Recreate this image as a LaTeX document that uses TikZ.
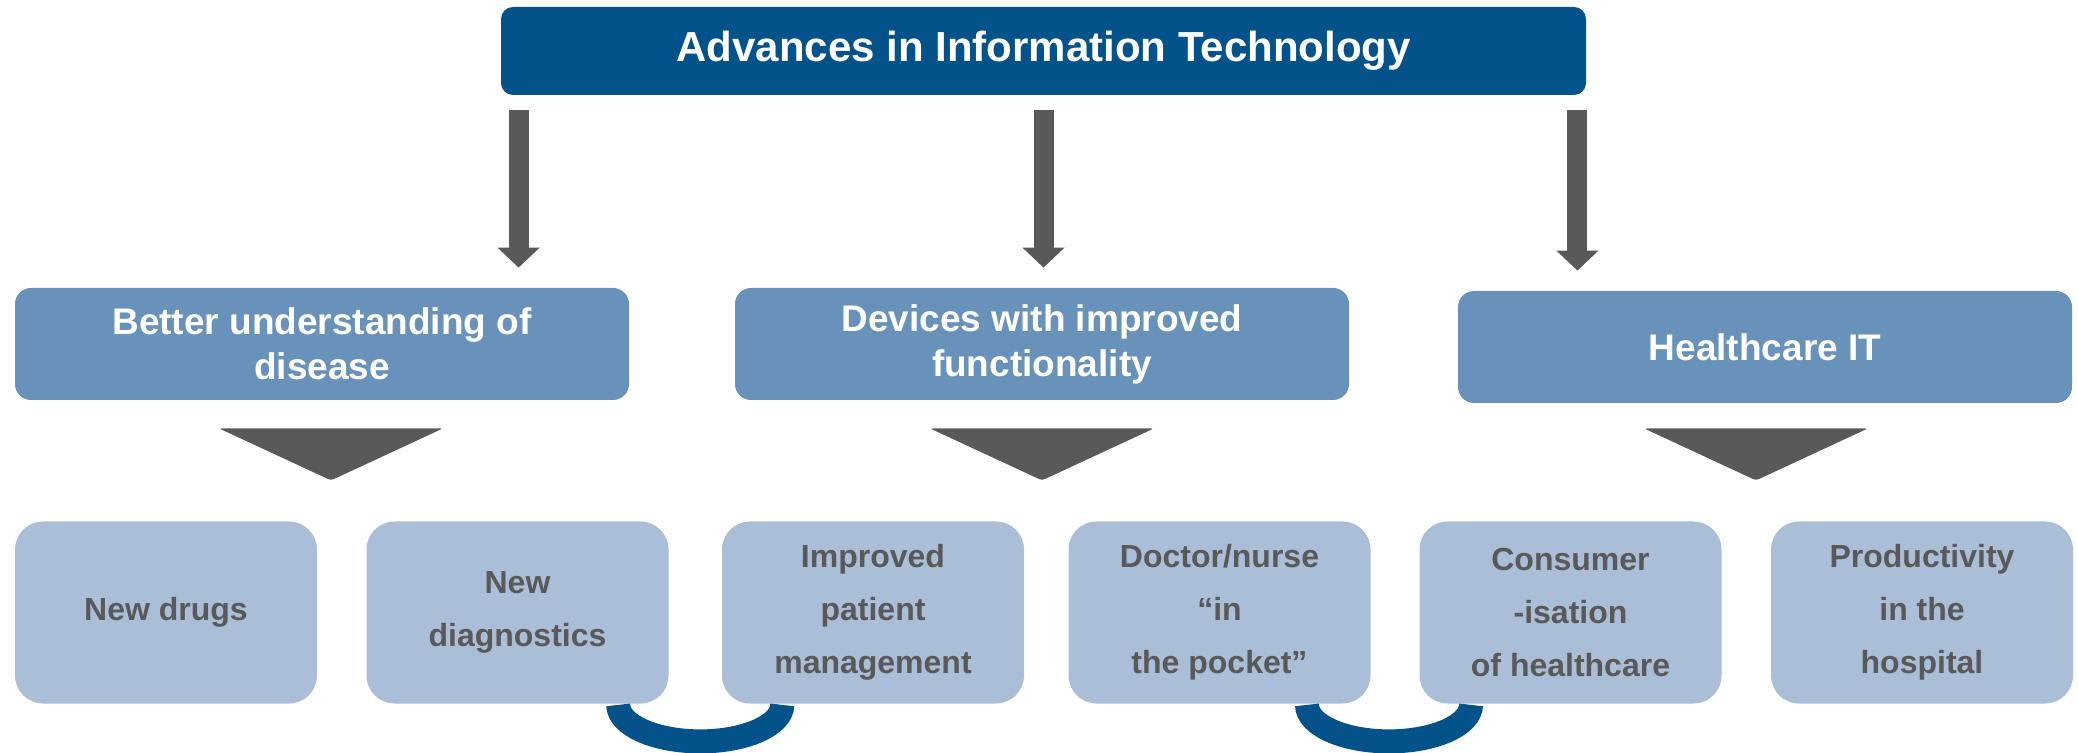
\documentclass[tikz,border=0pt]{standalone}
\usepackage{fontspec}
\setmainfont{Liberation Sans}
\usetikzlibrary{positioning,arrows.meta,calc}

\definecolor{itblue}{HTML}{03528A}
\definecolor{areablue}{HTML}{6892BA}
\definecolor{itemblue}{HTML}{AABED8}
\definecolor{arrowgray}{HTML}{58595B}
\definecolor{itemtext}{HTML}{595959}

\begin{document}
\begin{tikzpicture}[x=0.5pt,y=-0.5pt,on grid,
	headbox/.style={fill=itblue,rounded corners=6pt,minimum width=542.5pt,minimum height=44pt,inner sep=0pt,text=white,font=\bfseries\fontsize{21}{25}\selectfont},
	areabox/.style={fill=areablue,rounded corners=8pt,minimum width=307pt,minimum height=56pt,inner sep=0pt,align=center,text=white,font=\bfseries\fontsize{18.5}{22.5}\selectfont},
	itembox/.style={fill=itemblue,rounded corners=14pt,minimum width=151pt,minimum height=91pt,inner sep=0pt,align=center,text=itemtext,font=\bfseries\fontsize{16}{26.5}\selectfont},
	downarrow/.style={draw=arrowgray,line width=10pt,shorten >=10pt,-{Triangle[width=20.5pt,length=10pt]}},
	wedge/.style={fill=arrowgray,rounded corners=1.5pt},
	link/.style={draw=itblue,line width=12pt}]
	\useasboundingbox (0,0) rectangle (2078,753);

	\node[headbox] (it) at (1043.5,51) {Advances in Information Technology};

	\node[areabox] (disease) at (322,344) {Better understanding of\\disease};
	\node[areabox,right=360pt of disease] (devices) {Devices with improved\\functionality};
	\node[areabox,right=361.5pt of devices,yshift=-1.5pt] (hcit) {Healthcare IT};

	\node[itembox] (drugs) at (166,612.5) {New drugs};
	\node[itembox,right=175.75pt of drugs] (diag) {New\\diagnostics};
	\node[itembox,right=177.75pt of diag] (mgmt) {Improved\\patient\\management};
	\node[itembox,right=173.25pt of mgmt] (pocket) {Doctor/nurse\\“in\\the pocket”};
	\node[itembox,right=175.5pt of pocket] (consumer) {Consumer\\-isation\\of healthcare};
	\node[itembox,right=175.75pt of consumer] (hospital) {Productivity\\in the\\hospital};

	% arrows hanging from the head box
	\draw[downarrow] ([shift={(9pt,-7.5pt)}]it.south west) -- ([xshift=9pt]it.south west |- disease.north);
	\draw[downarrow] ([yshift=-7.5pt]it.south) -- (it.south |- devices.north);
	\draw[downarrow] ([shift={(-4.5pt,-7.5pt)}]it.south east) -- ([xshift=-4.5pt]it.south east |- hcit.north);

	% wedges under each area
	\fill[wedge] ([shift={(-51.5pt,-14pt)}]disease.south) -- ([shift={(60.5pt,-14pt)}]disease.south) -- ([shift={(4.5pt,-40pt)}]disease.south) -- cycle;
	\fill[wedge] ([shift={(-56pt,-14pt)}]devices.south) -- ([shift={(56pt,-14pt)}]devices.south) -- ([yshift=-40pt]devices.south) -- cycle;
	\fill[wedge] ([shift={(-60.5pt,-12.5pt)}]hcit.south) -- ([shift={(51.5pt,-12.5pt)}]hcit.south) -- ([shift={(-4.5pt,-38.5pt)}]hcit.south) -- cycle;

	% links between neighbouring items
	\coordinate (link1) at ($(diag.south east)!0.5!(mgmt.south west)$);
	\coordinate (link2) at ($(pocket.south east)!0.5!(consumer.south west)$);
	\draw[link] ([xshift=-38.5pt,yshift=-0.5pt]link1) arc[start angle=180,end angle=360,x radius=41pt,y radius=18.25pt];
	\draw[link] ([xshift=-44pt,yshift=-0.5pt]link2) arc[start angle=180,end angle=360,x radius=41pt,y radius=18.25pt];
\end{tikzpicture}
\end{document}
